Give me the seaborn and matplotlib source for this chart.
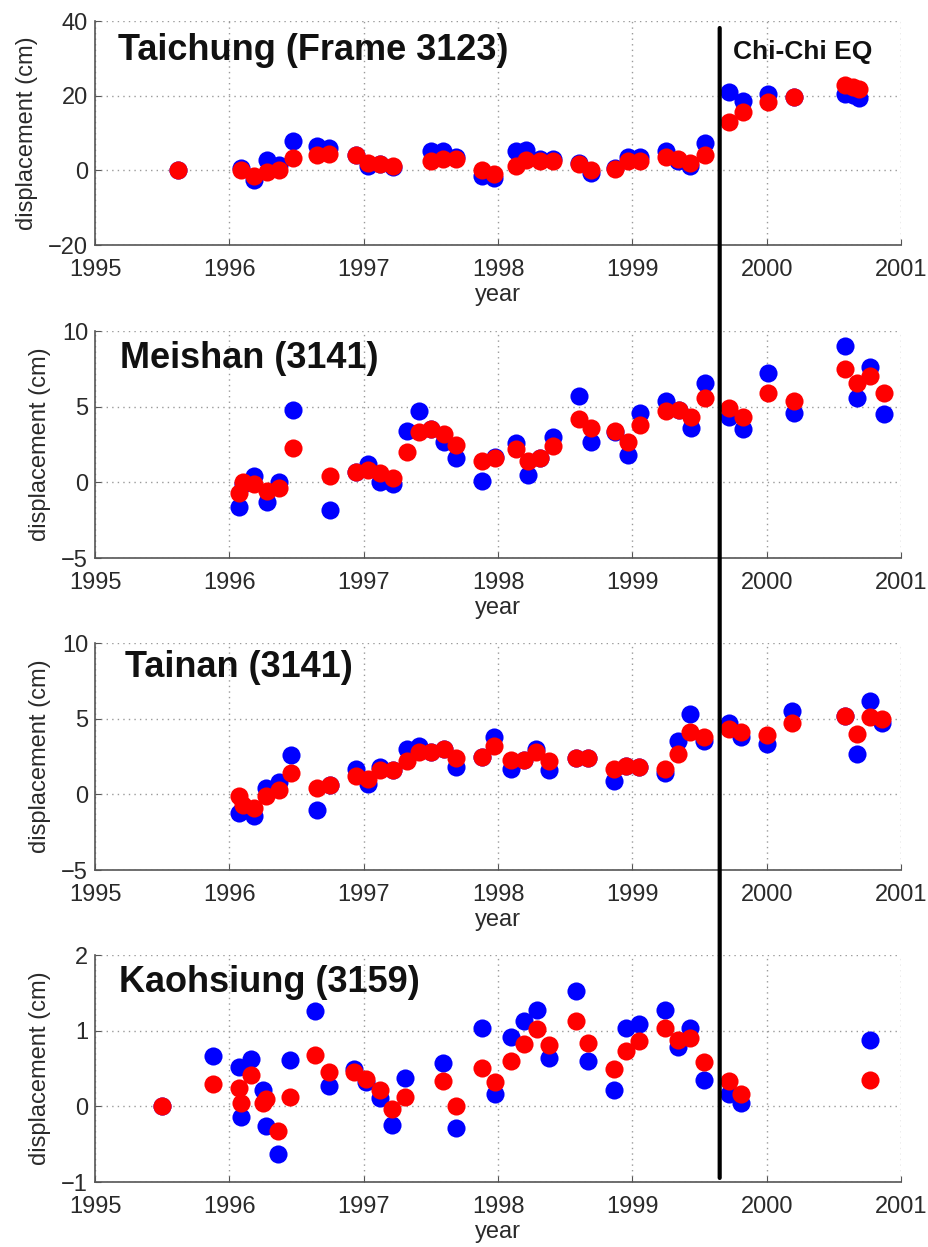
# InSAR displacement time series, four stations, Chi-Chi earthquake marked
import numpy as np
import pandas as pd
import matplotlib.pyplot as plt
from matplotlib.patches import ConnectionPatch
import seaborn as sns

# === DATA (decimal year / displacement in cm) ===
tc_year = [1995.62, 1996.09, 1996.18, 1996.28, 1996.37, 1996.47, 1996.65, 1996.74,
           1996.94, 1997.03, 1997.12, 1997.22, 1997.50, 1997.59, 1997.69, 1997.88,
           1997.97, 1998.13, 1998.21, 1998.31, 1998.41, 1998.60, 1998.69, 1998.87,
           1998.97, 1999.06, 1999.25, 1999.34, 1999.43, 1999.54, 1999.72, 1999.82,
           2000.01, 2000.20, 2000.58, 2000.64, 2000.69]
tc_blue = [0.0, 0.6, -2.7, 2.8, 1.5, 8.0, 6.4, 6.0,
           4.0, 1.1, 1.7, 0.8, 5.1, 5.1, 3.5, -1.6,
           -2.0, 5.1, 5.5, 3.1, 3.1, 2.0, -0.7, 0.6,
           3.7, 3.5, 5.2, 2.4, 1.1, 7.3, 21.0, 18.6,
           20.4, 19.7, 20.5, 20.3, 19.3]
tc_red = [0.0, 0.2, -1.6, -0.4, 0.2, 3.3, 4.2, 4.4,
          4.0, 2.0, 1.7, 1.1, 2.4, 3.1, 3.1, 0.2,
          -1.0, 1.1, 2.8, 2.4, 2.4, 1.8, 0.0, 0.4,
          2.4, 2.6, 3.7, 3.1, 2.0, 4.2, 12.9, 15.7,
          18.4, 19.7, 23.0, 22.4, 21.8]

ms_year = [1996.07, 1996.10, 1996.18, 1996.28, 1996.37, 1996.47, 1996.75, 1996.94,
           1997.03, 1997.12, 1997.22, 1997.32, 1997.41, 1997.50, 1997.60, 1997.69,
           1997.88, 1997.98, 1998.13, 1998.22, 1998.31, 1998.41, 1998.60, 1998.69,
           1998.87, 1998.97, 1999.06, 1999.25, 1999.35, 1999.44, 1999.54, 1999.72,
           1999.82, 2000.01, 2000.20, 2000.58, 2000.67, 2000.77, 2000.87]
ms_blue = [-1.6, -0.1, 0.4, -1.3, 0.0, 4.8, -1.8, 0.7,
           1.2, 0.0, -0.1, 3.4, 4.7, 3.5, 2.7, 1.6,
           0.1, 1.7, 2.6, 0.5, 1.6, 3.0, 5.7, 2.7,
           3.3, 1.8, 4.6, 5.4, 4.8, 3.6, 6.6, 4.3,
           3.5, 7.2, 4.6, 9.0, 5.6, 7.6, 4.5]
ms_red = [-0.7, 0.0, -0.1, -0.6, -0.4, 2.3, 0.4, 0.7,
          0.8, 0.6, 0.3, 2.0, 3.3, 3.5, 3.2, 2.5,
          1.4, 1.6, 2.2, 1.4, 1.6, 2.4, 4.2, 3.6,
          3.4, 2.7, 3.8, 4.7, 4.8, 4.3, 5.6, 4.9,
          4.3, 5.9, 5.4, 7.5, 6.6, 7.0, 5.9]

tn_year = [1996.07, 1996.10, 1996.18, 1996.27, 1996.37, 1996.46, 1996.65, 1996.75,
           1996.94, 1997.03, 1997.12, 1997.22, 1997.32, 1997.41, 1997.50, 1997.60,
           1997.69, 1997.88, 1997.97, 1998.10, 1998.19, 1998.28, 1998.38, 1998.58,
           1998.67, 1998.86, 1998.95, 1999.05, 1999.24, 1999.34, 1999.43, 1999.53,
           1999.72, 1999.81, 2000.00, 2000.19, 2000.58, 2000.67, 2000.77, 2000.86]
tn_blue = [-1.2, -1.0, -1.4, 0.4, 0.8, 2.6, -1.0, 0.6,
           1.7, 0.7, 1.8, 1.6, 3.0, 3.2, 2.8, 3.0,
           1.8, 2.5, 3.8, 1.7, 2.3, 3.0, 1.6, 2.4,
           2.4, 0.9, 1.9, 1.8, 1.4, 3.5, 5.3, 3.5,
           4.7, 3.8, 3.3, 5.5, 5.2, 2.7, 6.2, 4.7]
tn_red = [-0.1, -0.7, -0.9, -0.1, 0.3, 1.4, 0.4, 0.6,
          1.2, 1.0, 1.6, 1.6, 2.2, 2.8, 2.8, 3.0,
          2.4, 2.5, 3.2, 2.3, 2.3, 2.8, 2.2, 2.4,
          2.4, 1.7, 1.9, 1.8, 1.7, 2.7, 4.1, 3.8,
          4.3, 4.1, 3.9, 4.7, 5.2, 4.0, 5.1, 5.0]

kh_year = [1995.50, 1995.88, 1996.07, 1996.09, 1996.16, 1996.25, 1996.27, 1996.36,
           1996.45, 1996.64, 1996.74, 1996.93, 1997.02, 1997.12, 1997.21, 1997.31,
           1997.59, 1997.69, 1997.88, 1997.98, 1998.10, 1998.19, 1998.29, 1998.38,
           1998.58, 1998.67, 1998.86, 1998.95, 1999.05, 1999.24, 1999.34, 1999.43,
           1999.53, 1999.72, 1999.81, 2000.77]
kh_blue = [0.00, 0.66, 0.52, -0.14, 0.62, 0.21, -0.26, -0.63,
           0.61, 1.26, 0.27, 0.49, 0.32, 0.11, -0.24, 0.37,
           0.57, -0.28, 1.03, 0.16, 0.92, 1.13, 1.28, 0.64,
           1.52, 0.60, 0.21, 1.04, 1.09, 1.28, 0.78, 1.03,
           0.35, 0.17, 0.05, 0.88]
kh_red = [0.00, 0.30, 0.24, 0.05, 0.41, 0.05, 0.10, -0.32,
          0.12, 0.68, 0.46, 0.46, 0.36, 0.22, -0.04, 0.13,
          0.34, 0.01, 0.51, 0.32, 0.60, 0.83, 1.02, 0.81,
          1.13, 0.84, 0.50, 0.73, 0.87, 1.04, 0.88, 0.91,
          0.59, 0.33, 0.16, 0.35]

titles = ["Taichung (Frame 3123)", "Meishan (3141)", "Tainan (3141)", "Kaohsiung (3159)"]
ylims = [(-20, 40), (-5, 10), (-5, 10), (-1, 2)]
yticks = [[-20, 0, 20, 40], [-5, 0, 5, 10], [-5, 0, 5, 10], [-1, 0, 1, 2]]
year_ticks = [1995, 1996, 1997, 1998, 1999, 2000, 2001]
eq_year = 1999.65
eq_label = "Chi-Chi EQ"

# === STYLE ===
sns.set_style("white")
plt.rcParams["font.family"] = ["Liberation Sans", "DejaVu Sans"]

fig = plt.figure(figsize=(9.29, 12.47), dpi=100)

rects = [[0.1023, 0.8035, 0.8676, 0.1796],
         [0.1023, 0.5525, 0.8676, 0.1820],
         [0.1023, 0.3023, 0.8676, 0.1820],
         [0.1023, 0.0521, 0.8676, 0.1820]]
title_pos = [(0.028, 0.826), (0.031, 0.837), (0.037, 0.852), (0.030, 0.838)]

series = [(tc_year, tc_blue, tc_red), (ms_year, ms_blue, ms_red),
          (tn_year, tn_blue, tn_red), (kh_year, kh_blue, kh_red)]

axes = []
for i, (yr, b, r) in enumerate(series):
    ax = fig.add_axes(rects[i])
    df = pd.DataFrame({"year": yr, "blue": b, "red": r})
    # blue first, red drawn on top
    sns.scatterplot(data=df, x="year", y="blue", color="#0000ff", s=170,
                    linewidth=0, ax=ax, zorder=3, clip_on=False)
    sns.scatterplot(data=df, x="year", y="red", color="#ff0000", s=170,
                    linewidth=0, ax=ax, zorder=4, clip_on=False)
    ax.set_xlim(1995, 2001)
    ax.set_ylim(*ylims[i])
    ax.set_xticks(year_ticks)
    ax.set_xticklabels([str(t) for t in year_ticks])
    ax.set_yticks(yticks[i])
    ax.grid(True, linestyle=(0, (1, 3)), color="#9a9a9a", linewidth=1)
    for s in ["top", "right"]:
        ax.spines[s].set_visible(False)
    for s in ["left", "bottom"]:
        ax.spines[s].set_color("#555555")
        ax.spines[s].set_linewidth(1.2)
    ax.tick_params(direction="in", length=4, color="#555555", labelsize=17,
                   labelcolor="#2a2a2a", bottom=True, left=True)
    ax.tick_params(axis="x", pad=10)
    ax.tick_params(axis="y", pad=5)
    ax.set_xlabel("year", fontsize=17, color="#2a2a2a", labelpad=2)
    ax.set_ylabel("displacement (cm)", fontsize=17, color="#2a2a2a", labelpad=7)
    ax.text(title_pos[i][0], title_pos[i][1], titles[i], transform=ax.transAxes,
            fontsize=26, fontweight="bold", va="baseline", ha="left", color="#111111")
    axes.append(ax)

# earthquake label + line running through all panels
axes[0].text(0.7916, 0.829, eq_label, transform=axes[0].transAxes, fontsize=19,
             fontweight="bold", va="baseline", ha="left", color="#111111")
con = ConnectionPatch(xyA=(eq_year, 0.969), coordsA=axes[0].get_xaxis_transform(),
                      xyB=(eq_year, 0.018), coordsB=axes[3].get_xaxis_transform(),
                      color="black", linewidth=3, zorder=10)
fig.add_artist(con)

plt.savefig("out.png", dpi=100)
